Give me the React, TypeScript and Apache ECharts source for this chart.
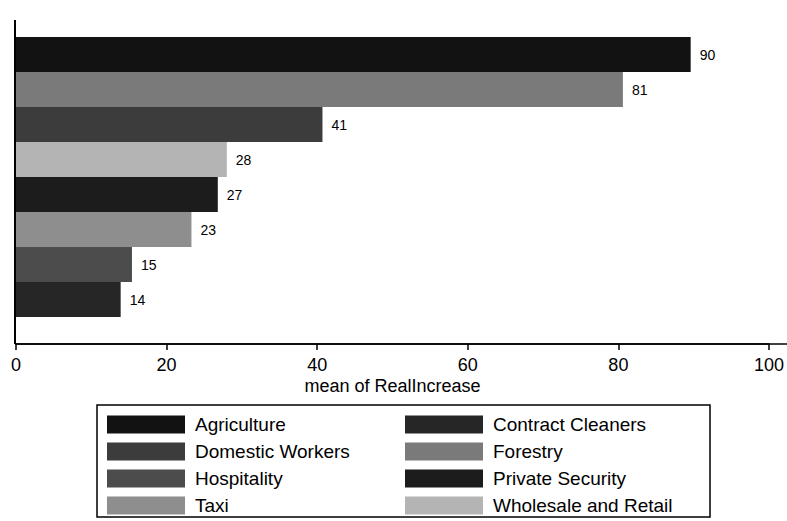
import React, { useEffect, useRef } from "react";
import * as echarts from "echarts";

const categories = [
  "Agriculture",
  "Forestry",
  "Domestic Workers",
  "Wholesale and Retail",
  "Private Security",
  "Taxi",
  "Hospitality",
  "Contract Cleaners",
];
const values = [89.6, 80.6, 40.7, 28.0, 26.8, 23.3, 15.4, 13.9];
const colors = ["#121212", "#7a7a7a", "#3c3c3c", "#b4b4b4", "#1c1c1c", "#8e8e8e", "#4c4c4c", "#262626"];
const xTicks = [0, 20, 40, 60, 80, 100];
const legendLeft = ["Agriculture", "Domestic Workers", "Hospitality", "Taxi"];
const legendRight = ["Contract Cleaners", "Forestry", "Private Security", "Wholesale and Retail"];

export default function App() {
  const ref = useRef<HTMLDivElement>(null);
  useEffect(() => {
    if (!ref.current) return;
    const chart = echarts.init(ref.current, null, { renderer: "svg" });
    const font = "Liberation Sans, Arial, sans-serif";
    const series = categories.map((name, i) => ({
      name,
      type: "bar",
      stack: "all",
      barWidth: 35,
      itemStyle: { color: colors[i] },
      label: {
        show: true,
        position: "right",
        distance: 9,
        color: "#000",
        fontSize: 14,
        fontFamily: font,
        formatter: (p: any) => String(Math.round(p.value)),
      },
      data: categories.map((_, j) => (j === i ? values[i] : "-")),
    }));
    const legendCommon = {
      orient: "vertical",
      top: 415,
      itemWidth: 78,
      itemHeight: 18,
      itemGap: 8,
      padding: 0,
      icon: "rect",
      selectedMode: false,
      textStyle: { fontSize: 19, fontFamily: font, color: "#000", padding: [0, 0, 0, 5] },
    };
    chart.setOption({
      animation: false,
      grid: { left: 16, right: 16, top: 37, bottom: 204 },
      xAxis: {
        type: "value",
        min: 0,
        max: 100,
        interval: 20,
        offset: 27,
        axisLine: { show: true, lineStyle: { color: "#000", width: 1.5 } },
        axisTick: { show: true, length: 6, lineStyle: { color: "#000", width: 1.5 } },
        axisLabel: {
          color: "#000",
          fontSize: 18,
          fontFamily: font,
          margin: 12,
          formatter: (v: number) => (xTicks.includes(v) ? String(v) : ""),
        },
        splitLine: { show: false },
        name: "mean of RealIncrease",
        nameLocation: "middle",
        nameGap: 33,
        nameMoveOverlap: false,
        nameTextStyle: { color: "#000", fontSize: 18, fontFamily: font },
      },
      yAxis: {
        type: "category",
        data: categories,
        inverse: true,
        axisLine: { show: false },
        axisTick: { show: false },
        axisLabel: { show: false },
      },
      legend: [
        { ...legendCommon, left: 107, data: legendLeft },
        { ...legendCommon, left: 405, data: legendRight },
      ],
      graphic: [
        { type: "line", shape: { x1: 15, y1: 20, x2: 15, y2: 344 }, style: { stroke: "#000", lineWidth: 2 } },
        { type: "line", shape: { x1: 15, y1: 344, x2: 787, y2: 344 }, style: { stroke: "#000", lineWidth: 1.5 } },
        {
          type: "rect",
          shape: { x: 97, y: 405, width: 613, height: 112 },
          style: { fill: "none", stroke: "#000", lineWidth: 1.5 },
        },
      ],
      series,
    });
    return () => chart.dispose();
  }, []);
  return (
    <div
      ref={ref}
      style={{ position: "fixed", left: 0, top: 0, width: 787, height: 521, background: "#fff" }}
    />
  );
}
